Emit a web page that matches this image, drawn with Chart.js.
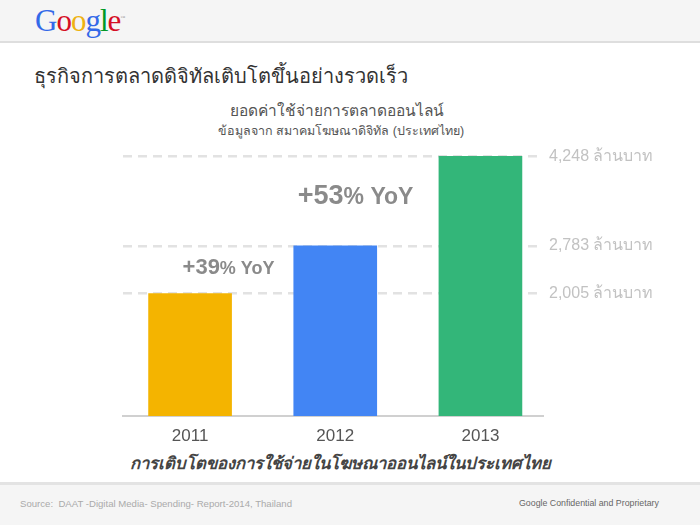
<!DOCTYPE html>
<html>
<head>
<meta charset="utf-8">
<script src="https://cdn.jsdelivr.net/npm/chart.js@4"></script>
<style>
  html, body { margin:0; padding:0; }
  body { width:700px; height:525px; position:relative; overflow:hidden; background:#fff; font-family:"Liberation Sans", Arial, sans-serif; }
  .hdr { position:absolute; left:0; top:0; width:700px; height:41px; background:#f5f5f5; border-bottom:2px solid #dedede; }
  .logo { position:absolute; left:35px; top:3px; font-family:"Liberation Serif", serif; font-size:31px; letter-spacing:-1px; }
  .ftr { position:absolute; left:0; top:482px; width:700px; height:43px; background:#f5f5f5; border-top:3px solid #e3e3e3; }
  .abs { position:absolute; white-space:nowrap; }
  #wrap { position:absolute; left:0; top:0; width:700px; height:525px; }
</style>
</head>
<body>
<div class="hdr">
  <div class="logo"><span style="color:#3369e8">G</span><span style="color:#d50f25">o</span><span style="color:#eeb211">o</span><span style="color:#3369e8">g</span><span style="color:#009925">l</span><span style="color:#d50f25">e</span><span style="font-size:5px;color:#999;position:relative;top:-12px;">™</span></div>
</div>
<div class="abs" style="left:34px;top:60px;font-size:20px;color:#333;">ธุรกิจการตลาดดิจิทัลเติบโตขึ้นอย่างรวดเร็ว</div>
<div class="abs" style="left:337px;top:98px;transform:translateX(-50%);font-size:15.5px;color:#555;">ยอดค่าใช้จ่ายการตลาดออนไลน์</div>
<div class="abs" style="left:341px;top:121px;transform:translateX(-50%);font-size:12.5px;color:#555;">ข้อมูลจาก สมาคมโฆษณาดิจิทัล (ประเทศไทย)</div>
<div class="abs" style="left:130px;top:450px;font-size:16.7px;font-weight:bold;font-style:italic;color:#444;">การเติบโตของการใช้จ่ายในโฆษณาออนไลน์ในประเทศไทย</div>
<div class="ftr">
  <div class="abs" style="left:20px;top:13px;font-size:9.6px;color:#aaa;">Source:&nbsp; DAAT -Digital Media- Spending- Report-2014, Thailand</div>
  <div class="abs" style="left:519px;top:13px;font-size:8.8px;color:#666;">Google Confidential and Proprietary</div>
</div>
<div id="wrap"><canvas id="c"></canvas></div>
<script>
// data
const years = ['2011', '2012', '2013'];
const spend = [2005, 2783, 4248];          // million baht
const barColors = ['#f4b400', '#4285f4', '#33b679'];
const yTicks = [2005, 2783, 4248];
const growthLabels = ['+39%', '+53%'];

// YoY labels drawn between bars
const yoyPlugin = {
  id: 'yoy',
  afterDatasetsDraw(chart) {
    const { ctx, scales: { x, y } } = chart;
    const spots = [
      { xv: 0.265, yv: 2430, big: 22, small: 18 },
      { xv: 1.14, yv: 3590, big: 27, small: 23 }
    ];
    ctx.save();
    ctx.fillStyle = '#8a8a8a';
    ctx.textBaseline = 'middle';
    spots.forEach((s, i) => {
      const num = growthLabels[i].replace('%', '');
      const rest = '% YoY';
      ctx.font = `bold ${s.big}px "Liberation Sans", Arial`;
      const w1 = ctx.measureText(num).width;
      ctx.font = `bold ${s.small}px "Liberation Sans", Arial`;
      const w2 = ctx.measureText(rest).width;
      const cx = x.getPixelForValue(s.xv), cy = y.getPixelForValue(s.yv);
      let left = cx - (w1 + w2) / 2;
      ctx.font = `bold ${s.big}px "Liberation Sans", Arial`;
      ctx.fillText(num, left, cy);
      ctx.font = `bold ${s.small}px "Liberation Sans", Arial`;
      ctx.fillText(rest, left + w1, cy + (s.big - s.small) * 0.3);
    });
    ctx.restore();
  }
};

new Chart(document.getElementById('c'), {
  type: 'bar',
  data: {
    datasets: [{
      data: years.map((yr, i) => ({ x: i, y: spend[i] })),
      backgroundColor: barColors,
      borderWidth: 0,
      barThickness: 83
    }]
  },
  options: {
    responsive: true, maintainAspectRatio: false, animation: false,
    layout: { padding: { left: 123, top: 141, right: 0, bottom: 0 } },
    scales: {
      x: {
        type: 'linear', min: -0.462, max: 2.431, offset: false,
        afterBuildTicks: s => { s.ticks = years.map((_, i) => ({ value: i })); },
        afterFit: s => { s.height = 109; },
        grid: { display: false, drawTicks: false, offset: false },
        border: { display: true, color: '#d0d0d0', width: 2 },
        ticks: {
          padding: 10, color: '#555',
          font: { family: '"Liberation Sans", Arial', size: 17 },
          callback: v => years[v]
        }
      },
      y: {
        position: 'right', min: 0, max: 4500,
        afterBuildTicks: s => { s.ticks = yTicks.map(v => ({ value: v })); },
        afterFit: s => { s.width = 157; },
        grid: { color: '#e2e2e2', lineWidth: 2.5, drawTicks: false },
        border: { display: false, dash: [9, 6] },
        ticks: {
          padding: 6, color: '#c2c2c2',
          font: { family: '"Liberation Sans", Arial', size: 16 },
          callback: v => v.toLocaleString('en-US') + ' ล้านบาท'
        }
      }
    },
    plugins: { legend: { display: false }, tooltip: { enabled: false } }
  },
  plugins: [yoyPlugin]
});
</script>
</body>
</html>
